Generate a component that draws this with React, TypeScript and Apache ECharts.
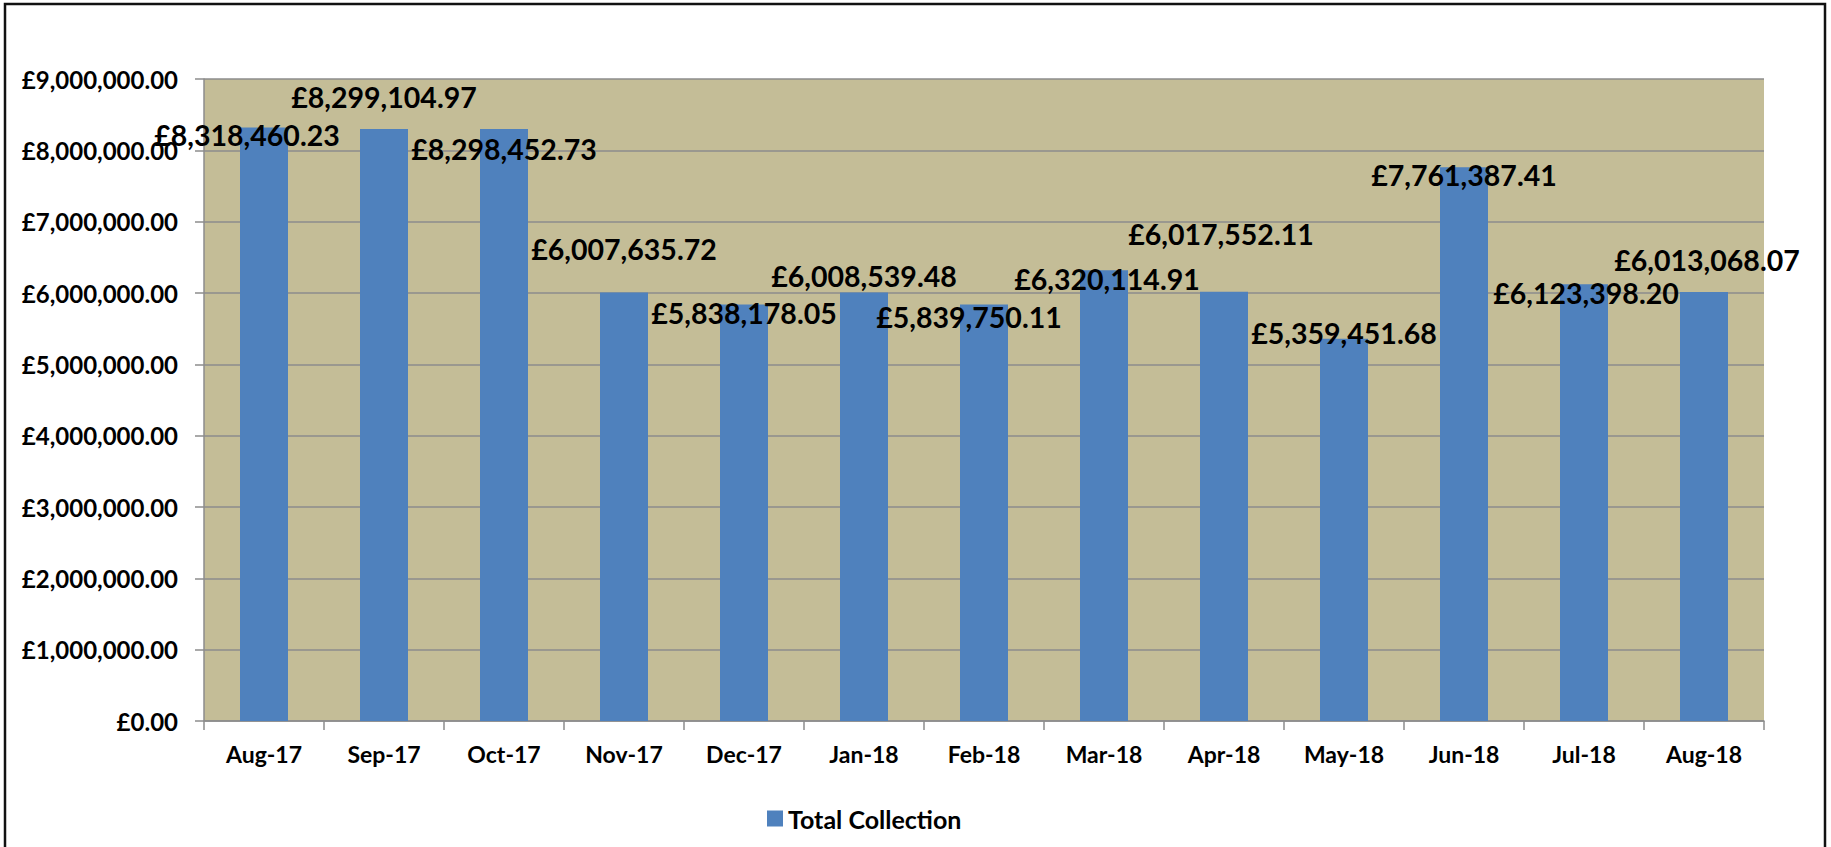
import React, { useEffect, useRef } from "react";
import * as echarts from "echarts";

const categories = [
  "Aug-17", "Sep-17", "Oct-17", "Nov-17", "Dec-17", "Jan-18", "Feb-18",
  "Mar-18", "Apr-18", "May-18", "Jun-18", "Jul-18", "Aug-18",
];

const totalCollection = [
  8318460.23, 8299104.97, 8298452.73, 6007635.72, 5838178.05, 6008539.48,
  5839750.11, 6320114.91, 6017552.11, 5359451.68, 7761387.41, 6123398.2,
  6013068.07,
];

const seriesName = "Total Collection";

// manual data-label nudges (px) as placed in the original chart
const labelOffsets: [number, number][] = [
  [-17, 7], [0, -32], [0, 20], [0, -43], [0, 8], [0, -16], [-15, 13],
  [3, 9], [-3, -58], [0, -6], [0, 8], [2, 9], [3, -32],
];

const FONT = "Lato, 'Open Sans', sans-serif";

function fmt(v: number): string {
  const fixed = Math.abs(v).toFixed(2);
  const [ip, dp] = fixed.split(".");
  const withCommas = ip.replace(/\B(?=(\d{3})+(?!\d))/g, ",");
  return "£" + withCommas + "." + dp;
}

export default function App() {
  const ref = useRef<HTMLDivElement>(null);

  useEffect(() => {
    if (!ref.current) return;
    const chart = echarts.init(ref.current, null, { renderer: "svg" });
    chart.setOption({
      animation: false,
      backgroundColor: "#ffffff",
      textStyle: { fontFamily: FONT },
      graphic: [
        {
          type: "rect",
          shape: { x: 5, y: 4, width: 1820, height: 880 },
          style: { fill: "none", stroke: "#111111", lineWidth: 2.5 },
          silent: true,
          z: 100,
        },
      ],
      grid: {
        left: 204,
        right: 67,
        top: 79,
        bottom: 126,
        show: true,
        backgroundColor: "#C4BD97",
        borderWidth: 0,
      },
      legend: {
        left: 762,
        top: 801,
        itemWidth: 16,
        itemHeight: 16,
        itemGap: 6,
        icon: "rect",
        textStyle: { fontFamily: FONT, fontWeight: "bold", fontSize: 25, color: "#000" },
        data: [seriesName],
      },
      xAxis: {
        type: "category",
        data: categories,
        axisLine: { show: true, lineStyle: { color: "#8C8C8C", width: 1.5 } },
        axisTick: { show: true, length: 9, lineStyle: { color: "#8C8C8C", width: 1.5 } },
        axisLabel: {
          margin: 21,
          fontFamily: FONT,
          fontWeight: "bold",
          fontSize: 23,
          color: "#000",
        },
      },
      yAxis: {
        type: "value",
        min: 0,
        max: 9000000,
        interval: 1000000,
        axisLine: { show: true, lineStyle: { color: "#8C8C8C", width: 1.5 } },
        axisTick: { show: true, length: 9, lineStyle: { color: "#8C8C8C", width: 1.5 } },
        splitLine: { show: true, lineStyle: { color: "#8C8C8C", width: 1.5 } },
        axisLabel: {
          margin: 26,
          fontFamily: FONT,
          fontWeight: "bold",
          fontSize: 24,
          color: "#000",
          formatter: (v: number) => fmt(v),
        },
      },
      series: [
        {
          name: seriesName,
          type: "bar",
          barWidth: 48,
          itemStyle: { color: "#4F81BD" },
          data: totalCollection.map((v, i) => ({
            value: v,
            label: { offset: labelOffsets[i] },
          })),
          label: {
            show: true,
            position: "top",
            distance: 0,
            verticalAlign: "middle",
            fontFamily: FONT,
            fontWeight: "bold",
            fontSize: 28.5,
            color: "#000",
            formatter: (p: any) => fmt(p.value),
          },
        },
      ],
    });
    return () => chart.dispose();
  }, []);

  return (
    <div
      ref={ref}
      style={{ position: "absolute", left: 0, top: 0, width: 1831, height: 847 }}
    />
  );
}
